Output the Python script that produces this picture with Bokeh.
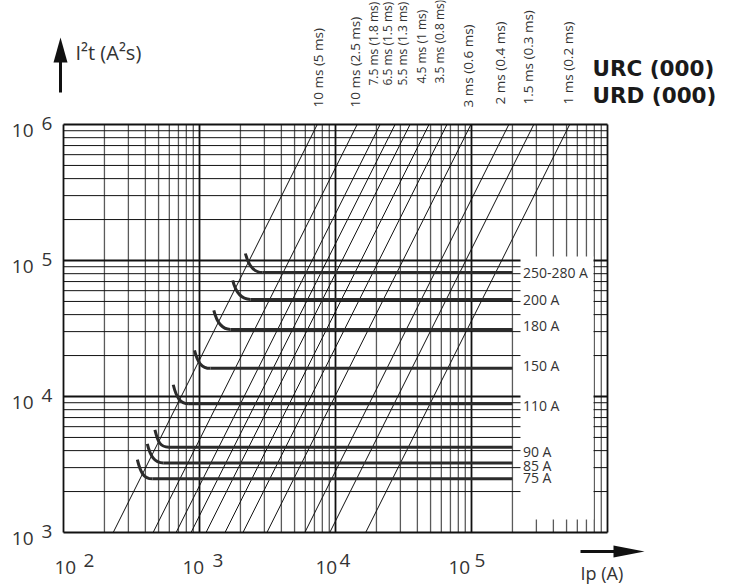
import math
from bokeh.plotting import figure
from bokeh.models import Range1d, Label, PolyAnnotation
from bokeh.embed import file_html
from bokeh.resources import INLINE

# ---------------- data ----------------
x_decades = [2, 3, 4, 5, 6]          # Ip axis: 10^2 .. 10^6
y_decades = [3, 4, 5, 6]             # I2t axis: 10^3 .. 10^6
x_tick_exps = ["2", "3", "4", "5"]
y_tick_exps = ["3", "4", "5", "6"]

pulse_labels = ["10 ms (5 ms)", "10 ms (2.5 ms)", "7.5 ms (1.8 ms)", "6.5 ms (1.5 ms)",
                "5.5 ms (1.3 ms)", "4.5 ms (1 ms)", "3.5 ms (0.8 ms)", "3 ms (0.6 ms)",
                "2 ms (0.4 ms)", "1.5 ms (0.3 ms)", "1 ms (0.2 ms)"]
pulse_ip_at_1e3 = [232, 456, 673, 867, 1117, 1540, 2087, 3131, 5948, 9076, 16670]
pulse_ip_at_1e6 = [7340, 14430, 21280, 27420, 35330, 48690, 65990, 99000, 188100, 287000, 527200]

fuse_ratings = ["250-280 A", "200 A", "180 A", "150 A", "110 A", "90 A", "85 A", "75 A"]
fuse_start_ip = [2175, 1755, 1274, 919, 641, 470, 413, 349]
fuse_start_i2t = [112600, 71300, 42900, 21800, 12200, 5690, 4490, 3430]
fuse_knee_ip = [2898, 2366, 1688, 1204, 835, 596, 542, 450]
fuse_i2t = [81600, 51700, 31100, 16100, 8840, 4240, 3250, 2480]
fuse_end_ip = [200000] * 8

# ---------------- layout ----------------
W, H = 730, 585
FL, FT = 63.0, 124.0      # pixel position of (10^2, 10^6)
DX, DY = 136.0, 136.0     # pixels per decade


def X(px):
    return 10 ** (2 + (px - FL) / DX)


def Y(py):
    return 10 ** (6 - (py - FT) / DY)


FONT = "Open Sans"
TXT = "#333333"
GRID_X0, GRID_X1 = 1e2, 1e6
GRID_Y0, GRID_Y1 = 1e3, 1e6

p = figure(width=W, height=H, x_axis_type="log", y_axis_type="log",
           x_range=Range1d(X(0), X(W)), y_range=Range1d(Y(H), Y(0)),
           x_axis_location=None, y_axis_location=None,
           toolbar_location=None, output_backend="svg",
           min_border_left=0, min_border_right=0,
           min_border_top=0, min_border_bottom=0)
p.title.visible = False
p.xgrid.visible = False
p.ygrid.visible = False
p.outline_line_color = None
p.background_fill_color = "white"
p.border_fill_color = "white"

# grid lines
minor_x = [m * 10 ** e for e in x_decades[:-1] for m in range(2, 10)]
minor_y = [m * 10 ** e for e in y_decades[:-1] for m in range(2, 10)]
major_x = [10 ** e for e in x_decades]
major_y = [10 ** e for e in y_decades]

p.segment(x0=minor_x, y0=GRID_Y0, x1=minor_x, y1=GRID_Y1, line_color="#5a5a5a", line_width=1.3)
p.segment(x0=GRID_X0, y0=minor_y, x1=GRID_X1, y1=minor_y, line_color="#111111", line_width=1.0)
p.segment(x0=major_x, y0=GRID_Y0, x1=major_x, y1=GRID_Y1, line_color="#111111", line_width=1.8)
p.segment(x0=GRID_X0, y0=major_y, x1=GRID_X1, y1=major_y, line_color="#111111", line_width=1.8)

# pulse lines (slope 2)
p.segment(x0=pulse_ip_at_1e3, y0=GRID_Y0, x1=pulse_ip_at_1e6, y1=GRID_Y1,
          line_color="#111111", line_width=1.0)

# blank label panel on the right
p.quad(left=X(520), right=X(593), bottom=Y(519), top=Y(256),
       fill_color="white", line_color=None)

# fuse curves: hook + flat part
c0x = [v * 10 ** (3 / DX) for v in fuse_start_ip]
c0y = [v / 10 ** (12 / DY) for v in fuse_start_i2t]
c1x = [v / 10 ** (9 / DX) for v in fuse_knee_ip]
p.bezier(x0=fuse_start_ip, y0=fuse_start_i2t, x1=fuse_knee_ip, y1=fuse_i2t,
         cx0=c0x, cy0=c0y, cx1=c1x, cy1=fuse_i2t,
         line_color="#2b2b2b", line_width=3)
p.segment(x0=fuse_knee_ip, y0=fuse_i2t, x1=fuse_end_ip, y1=fuse_i2t,
          line_color="#2b2b2b", line_width=3)


def lab(text, x, y, size, **kw):
    kw.setdefault("text_color", TXT)
    kw.setdefault("text_font", FONT)
    p.add_layout(Label(x=x, y=y, text=text, text_font_size=f"{size}px", **kw))


# y tick labels
for d, e in zip(y_decades, y_tick_exps):
    lab("10", GRID_X0, 10 ** d, 19, x_offset=-30, y_offset=-6, text_align="right",
        text_baseline="alphabetic")
    lab(e, GRID_X0, 10 ** d, 19, x_offset=-22, y_offset=1, text_align="left",
        text_baseline="alphabetic")

# x tick labels
x_ten_off = [-9, -17, -20, -23]
x_exp_off = [20, 13, 4, 3]
for d, e, o1, o2 in zip(x_decades, x_tick_exps, x_ten_off, x_exp_off):
    lab("10", 10 ** d, GRID_Y0, 19, x_offset=o1, y_offset=-35, text_align="left",
        text_baseline="alphabetic")
    lab(e, 10 ** d, GRID_Y0, 19, x_offset=o2, y_offset=-28, text_align="left",
        text_baseline="alphabetic")

# fuse rating labels
fuse_lab_dy = [0, 0, 4, 3, -2, -4, -3, 1]
for t, y, dy, xe in zip(fuse_ratings, fuse_i2t, fuse_lab_dy, fuse_end_ip):
    lab(t, xe, y, 14, x_offset=10.5, y_offset=dy, text_align="left",
        text_baseline="middle")

# pulse labels (rotated)
pulse_lab_dx = [1, -2, -7, -8, -8, -7, -7, -3, -9, -6, -2]
pulse_lab_dy = [17, 17, 39, 39, 39, 41, 41, 17, 20, 20, 20]
pulse_lab_sz = [13.5, 13.5, 12, 12, 12, 12, 12, 13.5, 13.5, 13.5, 13.5]
for t, xt, dx, dy, sz in zip(pulse_labels, pulse_ip_at_1e6, pulse_lab_dx,
                             pulse_lab_dy, pulse_lab_sz):
    lab(t, xt, GRID_Y1, sz, x_offset=dx, y_offset=dy, angle=math.pi / 2,
        text_align="left", text_baseline="middle")

# axis titles and arrows
lab("I\u00b2t (A\u00b2s)", X(75), Y(52), 20, text_align="left", text_baseline="alphabetic")
lab("Ip (A)", X(580), Y(572), 18, text_align="left", text_baseline="alphabetic")
lab("URC (000)", X(592), Y(68), 21.5, text_align="left", text_baseline="alphabetic",
    text_font="DejaVu Sans", text_font_style="bold", text_color="#1a1a1a")
lab("URD (000)", X(592), Y(95), 21.5, text_align="left", text_baseline="alphabetic",
    text_font="DejaVu Sans", text_font_style="bold", text_color="#1a1a1a")


def poly(pts):
    p.add_layout(PolyAnnotation(xs=[X(a) for a, b in pts], ys=[Y(b) for a, b in pts],
                                fill_color="#111111", fill_alpha=1.0, line_color=None))


poly([(58.5, 92), (61.5, 92), (61.5, 58), (58.5, 58)])
poly([(60, 37), (53, 62), (67, 62)])
poly([(580, 549.5), (616, 549.5), (616, 552.5), (580, 552.5)])
poly([(644, 551), (613, 545), (613, 557)])

open("out.html", "w").write(file_html(p, INLINE))
